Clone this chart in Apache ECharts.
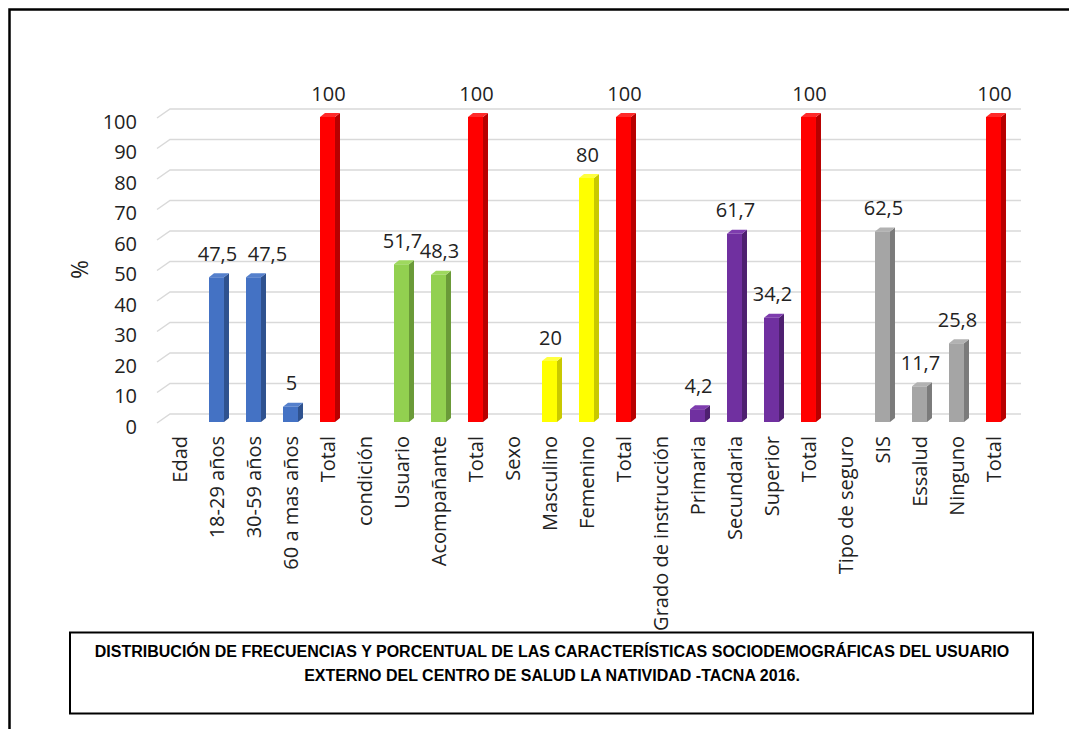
<!DOCTYPE html>
<html>
<head>
<meta charset="utf-8">
<script src="https://cdn.jsdelivr.net/npm/echarts@6/dist/echarts.min.js"></script>
<style>
html,body{margin:0;padding:0;background:#fff;}
#chart{width:1069px;height:729px;}
</style>
</head>
<body>
<div id="chart"></div>
<script>
const categories = ['Edad','18-29 años','30-59 años','60 a mas años','Total','condición','Usuario','Acompañante','Total','Sexo','Masculino','Femenino','Total','Grado de instrucción','Primaria','Secundaria','Superior','Total','Tipo de seguro','SIS','Essalud','Ninguno','Total'];
const values = [null,47.5,47.5,5,100,null,51.7,48.3,100,null,20,80,100,null,4.2,61.7,34.2,100,null,62.5,11.7,25.8,100];
const groups = ['','edad','edad','edad','total','','condicion','condicion','total','','sexo','sexo','total','','grado','grado','grado','total','','seguro','seguro','seguro','total'];
const yTicks = [0,10,20,30,40,50,60,70,80,90,100];
const titleLines = ['DISTRIBUCIÓN DE FRECUENCIAS Y PORCENTUAL DE LAS CARACTERÍSTICAS SOCIODEMOGRÁFICAS DEL USUARIO','EXTERNO DEL CENTRO DE SALUD LA NATIVIDAD -TACNA 2016.'];

const palette = {
  edad:      {front:'#4472C4', side:'#2F528F', top:'#5580CC'},
  condicion: {front:'#92D050', side:'#6A9A38', top:'#9ED85E'},
  sexo:      {front:'#FFFF00', side:'#C9C900', top:'#FFFF40'},
  grado:     {front:'#7030A0', side:'#4E2070', top:'#7E3CAE'},
  seguro:    {front:'#A5A5A5', side:'#7B7B7B', top:'#B2B2B2'},
  total:     {front:'#FF0000', side:'#B80000', top:'#FF2A2A'}
};
// label nudges (style only): avoid overlapping neighbouring labels as in the original
const labelNudge = {2: 13};
const FONT = '"Open Sans", "Noto Sans", sans-serif';

const chart = echarts.init(document.getElementById('chart'), null, {renderer:'svg'});

const barData = values.map((v,i)=>[i, v]);
const gridData = yTicks.map(v=>[0, v]);

chart.setOption({
  animation:false,
  backgroundColor:'#fff',
  grid:{left:161, right:57, top:117, bottom:307},
  xAxis:{
    type:'category', data:categories,
    axisLine:{show:false}, axisTick:{show:false},
    axisLabel:{interval:0, rotate:90, margin:14, fontSize:20, fontFamily:FONT, color:'#222'}
  },
  yAxis:{
    type:'value', min:0, max:100, interval:10,
    name:'%', nameLocation:'middle', nameRotate:90, nameGap:71,
    nameTextStyle:{fontSize:23, fontFamily:FONT, color:'#222'},
    axisLine:{show:false}, axisTick:{show:false}, splitLine:{show:false},
    axisLabel:{margin:24, fontSize:20, fontFamily:FONT, color:'#222', verticalAlign:'top', lineHeight:8}
  },
  graphic:[
    {type:'rect', shape:{x:9.5, y:9.5, width:1200, height:1000}, style:{fill:'none', stroke:'#000', lineWidth:2.5}, z:0},
    {type:'rect', shape:{x:70, y:632.5, width:963, height:81}, style:{fill:'#fff', stroke:'#000', lineWidth:2}, z:10},
    {type:'text', x:552, y:651, style:{text:titleLines[0], font:'bold 16px "Liberation Sans", Arial, sans-serif', fill:'#000', textAlign:'center', textVerticalAlign:'middle'}, z:11},
    {type:'text', x:552, y:675, style:{text:titleLines[1], font:'bold 16px "Liberation Sans", Arial, sans-serif', fill:'#000', textAlign:'center', textVerticalAlign:'middle'}, z:11}
  ],
  series:[
    {
      type:'custom', z:1, silent:true,
      data:gridData,
      renderItem:function(params, api){
        const cs = params.coordSys;
        const y = api.coord([0, api.value(1)])[1];
        return {
          type:'polyline',
          shape:{points:[[cs.x-4, y+1],[cs.x+9, y-8],[cs.x+cs.width+9, y-8]]},
          style:{stroke:'#D9D9D9', lineWidth:1.5, fill:'none'}
        };
      }
    },
    {
      type:'custom', z:5,
      data:barData,
      renderItem:function(params, api){
        const v = api.value(1);
        if (v === null || v === undefined || isNaN(v)) return null;
        const i = api.value(0);
        const c = palette[groups[i]];
        const base = api.coord([i, 0]);
        const top = api.coord([i, v]);
        const bw = api.size([1, 0])[0] * 0.405;
        const x0 = base[0] - bw/2, x1 = base[0] + bw/2;
        const yb = base[1], yt = top[1];
        const dx = 5, dy = 4;
        const lx = base[0] + 1 + (labelNudge[i] || 0);
        return {
          type:'group',
          children:[
            {type:'polygon', shape:{points:[[x1,yt],[x1+dx,yt-dy],[x1+dx,yb-dy],[x1,yb]]}, style:{fill:c.side}},
            {type:'polygon', shape:{points:[[x0,yt],[x0+dx,yt-dy],[x1+dx,yt-dy],[x1,yt]]}, style:{fill:c.top}},
            {type:'rect', shape:{x:x0, y:yt, width:bw, height:yb-yt}, style:{fill:c.front}},
            {type:'text', style:{text:String(v).replace('.', ','), x:lx, y:yt-24, textAlign:'center', textVerticalAlign:'middle', font:'20px ' + FONT, fill:'#222'}}
          ]
        };
      }
    }
  ]
});
</script>
</body>
</html>
